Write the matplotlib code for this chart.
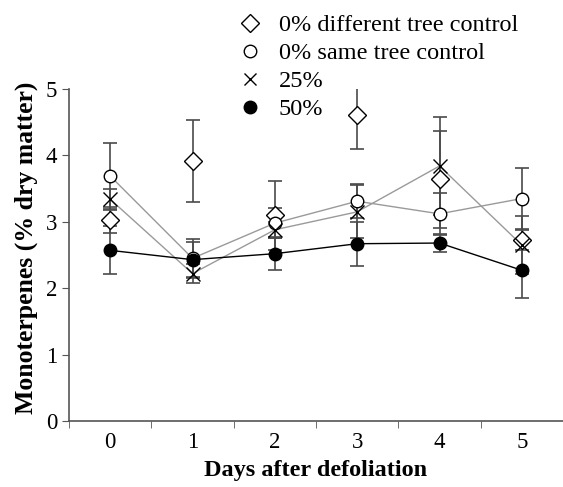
import matplotlib
matplotlib.use("Agg")
import matplotlib.pyplot as plt
from matplotlib.lines import Line2D
import numpy as np

plt.rcParams['font.family'] = ['Liberation Serif', 'DejaVu Serif']

# Jours après défoliation
days = [0, 1, 2, 3, 4, 5]

# Moyennes et erreurs
diff_ctrl = [3.03, 3.92, 3.10, 4.61, 3.64, 2.73]
diff_ctrl_err = [0.20, 0.62, 0.52, 0.52, 0.73, 0.15]
same_ctrl = [3.69, 2.45, 2.98, 3.31, 3.12, 3.35]
same_ctrl_err = [0.50, 0.29, 0.23, 0.26, 0.32, 0.46]
def25 = [3.34, 2.22, 2.88, 3.15, 3.84, 2.65]
def25_err = [0.16, 0.14, 0.12, 0.40, 0.74, 0.43]
def50 = [2.57, 2.43, 2.52, 2.67, 2.68, 2.27]
def50_err = [0.36, 0.26, 0.25, 0.33, 0.14, 0.42]

labels = ['0% different tree control', '0% same tree control', '25%', '50%']

fig = plt.figure(figsize=(5.63, 4.87), dpi=100)
ax = fig.add_axes([69/563, 66/487, 1 - 69/563, (421 - 89)/487])

ebc = '#4a4a4a'
cap = 5
# séries reliées
ax.plot(days, same_ctrl, color='#9a9a9a', lw=1, zorder=1)
ax.plot(days, def25, color='#9a9a9a', lw=1, zorder=1)
ax.plot(days, def50, color='black', lw=1, zorder=1)

ax.errorbar(days, diff_ctrl, yerr=diff_ctrl_err, fmt='none', ecolor=ebc, elinewidth=1.2, capsize=cap, capthick=1.2, zorder=2)
ax.errorbar(days, same_ctrl, yerr=same_ctrl_err, fmt='none', ecolor=ebc, elinewidth=1.2, capsize=cap, capthick=1.2, zorder=2)
ax.errorbar(days, def25, yerr=def25_err, fmt='none', ecolor=ebc, elinewidth=1.2, capsize=cap, capthick=1.2, zorder=2)
ax.errorbar(days, def50, yerr=def50_err, fmt='none', ecolor=ebc, elinewidth=1.2, capsize=cap, capthick=1.2, zorder=2)

ax.plot(days, diff_ctrl, 'D', ms=9, mfc='white', mec='black', mew=1, ls='none', zorder=3)
ax.plot(days, same_ctrl, 'o', ms=9, mfc='white', mec='black', mew=1, ls='none', zorder=3)
ax.plot(days, def25, 'x', ms=10, mec='black', mew=1, ls='none', zorder=3)
ax.plot(days, def50, 'o', ms=9, mfc='black', mec='black', ls='none', zorder=3)

ax.set_xlim(-0.5, 5.47)
ax.set_ylim(0, 5)
ax.set_yticks([0, 1, 2, 3, 4, 5])
ax.set_xticks(days)
ax.set_xticks(np.arange(-0.5, 5.6, 1), minor=True)
ax.tick_params(axis='x', which='major', length=0, labelsize=16.5, pad=8)
ax.tick_params(axis='x', which='minor', length=5, color='#555555', direction='out')
ax.tick_params(axis='y', length=5, color='#555555', labelsize=16.5, direction='out')

for s in ['top', 'right']:
    ax.spines[s].set_visible(False)
for s in ['left', 'bottom']:
    ax.spines[s].set_color('#555555')
    ax.spines[s].set_linewidth(1.2)

ax.set_xlabel('Days after defoliation', fontsize=17.5, fontweight='bold', labelpad=5)
ax.set_ylabel('Monoterpenes (% dry matter)', fontsize=18.5, fontweight='bold')
ax.yaxis.set_label_coords(-31/494, 0.521)

handles = [
    Line2D([], [], marker='D', ms=9, mfc='white', mec='black', ls='none'),
    Line2D([], [], marker='o', ms=9, mfc='white', mec='black', ls='none'),
    Line2D([], [], marker='x', ms=9, mec='black', ls='none'),
    Line2D([], [], marker='o', ms=9, mfc='black', mec='black', ls='none'),
]
fig.legend(handles, labels, loc='upper left', bbox_to_anchor=(218/563, 1.006),
           frameon=False, fontsize=17.5, handlelength=1.2, handletextpad=0.6,
           labelspacing=0.25, borderpad=0.2)

fig.savefig('out.png', dpi=100)
